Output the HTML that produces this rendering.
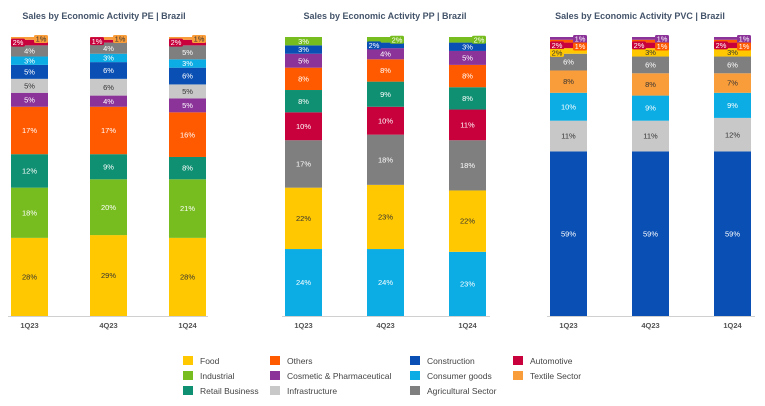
<!DOCTYPE html>
<html><head><meta charset="utf-8"><style>
body{margin:0;background:#fff;width:765px;height:401px;overflow:hidden;font-family:"Liberation Sans",sans-serif}
svg text{font-family:"Liberation Sans",sans-serif}
</style></head><body>
<svg id="c" width="765" height="401"></svg>
<script>
const periods=["1Q23","4Q23","1Q24"];
const colors={Food:"#ffc800",Industrial:"#77bd1f",Retail:"#109072",Others:"#ff5a00",Cosmetic:"#8b3399",Infrastructure:"#c8c8c8",Construction:"#0a50b4",Consumer:"#0bade4",Agricultural:"#7f7f7f",Automotive:"#c8003c",Textile:"#f99d3a"};
const peCats=["Food","Industrial","Retail","Others","Cosmetic","Infrastructure","Construction","Consumer","Agricultural","Automotive","Textile"];
const peVals=[[28,18,12,17,5,5,5,3,4,2,1],[29,20,9,17,4,6,6,3,4,1,1],[28,21,8,16,5,5,6,3,5,2,1]];
const ppCats=["Consumer","Food","Agricultural","Automotive","Retail","Others","Cosmetic","Construction","Industrial"];
const ppVals=[[24,22,17,10,8,8,5,3,3],[24,23,18,10,9,8,4,2,2],[23,22,18,11,8,8,5,3,2]];
const pvcCats=["Construction","Infrastructure","Consumer","Textile","Agricultural","Food","Automotive","Others","Cosmetic"];
const pvcVals=[[59,11,10,8,6,2,2,1,1],[59,11,9,8,6,3,2,1,1],[59,12,9,7,6,3,2,1,1]];
const charts=[
 {title:"Sales by Economic Activity PE | Brazil",cats:peCats,vals:peVals,x:[11,90,169],ax:[8,208],tx:104,name:"pe",oneRight:false},
 {title:"Sales by Economic Activity PP | Brazil",cats:ppCats,vals:ppVals,x:[285,367,449],ax:[282,490],tx:385,name:"pp",oneRight:false},
 {title:"Sales by Economic Activity PVC | Brazil",cats:pvcCats,vals:pvcVals,x:[550,632,714],ax:[547,755],tx:640,name:"pvc",oneRight:true}];
const NS="http://www.w3.org/2000/svg",svg=document.getElementById("c");
function mk(t,a,p){const e=document.createElementNS(NS,t);for(const k in a)e.setAttribute(k,a[k]);(p||svg).appendChild(e);return e;}
const base=316,top0=37,bw=37;
const yScale=v=>v*(base-top0)/100;
const darkText=["Food","Infrastructure","Textile"];
charts.forEach(ch=>{
 const g=mk("g",{});
 
 
 const t=mk("text",{x:ch.tx,y:19,"text-anchor":"middle","font-size":"9","font-weight":"bold",fill:"#44546a"},g);t.textContent=ch.title;
 
 
 ch.vals.forEach((arr,i)=>{
  let y=base;const x=ch.x[i];
  const labels=[];
  arr.forEach((v,j)=>{
   const h=yScale(v);y-=h;
   const r=mk("rect",{x:x,y:y,width:bw,height:h,fill:colors[ch.cats[j]]},g);
   
   
   labels.push([v,j,y,h]);
  });
  const prev={L:-99,R:-99,C:-99};
  labels.slice().reverse().forEach(([v,j,y,h])=>{
   let side="C";
   if(v<=2){side=(j==arr.length-1||(v<=1&&ch.oneRight))?"R":"L";}
   const lx=side=="R"?x+bw-7:(side=="L"?x+7:x+bw/2);
   let cy=y+h/2;
   if(side!="C"){cy=Math.max(cy,prev[side]+7.5,top0+2);prev[side]=cy;}
   if(side!="C"){
    const b=mk("rect",{x:lx-7,y:cy-4,width:14,height:8,rx:1.5,fill:colors[ch.cats[j]]},g);
    
    
   }
   const l=mk("text",{x:lx,y:cy+2.6,"text-anchor":"middle","font-size":"7.5",fill:darkText.includes(ch.cats[j])?"#333":"#fff"},g);
   l.textContent=v+"%";
   
   
  });
  const tl=mk("text",{x:x+bw/2,y:328,"text-anchor":"middle","font-size":"7.5","font-weight":"bold",fill:"#555"},g);
  tl.textContent=periods[i];
  
  
 });
 const a=mk("line",{x1:ch.ax[0],x2:ch.ax[1],y1:base+0.5,y2:base+0.5,stroke:"#d0d0d0"},g);
 
 
});
const legend=[["Food","Food"],["Industrial","Industrial"],["Retail","Retail Business"],["Others","Others"],["Cosmetic","Cosmetic & Pharmaceutical"],["Infrastructure","Infrastructure"],["Construction","Construction"],["Consumer","Consumer goods"],["Agricultural","Agricultural Sector"],["Automotive","Automotive"],["Textile","Textile Sector"]];
const lxs=[183,270,410,513],lys=[356,371,386];
legend.forEach((e,i)=>{
 const col=i<9?Math.floor(i/3):3,row=i<9?i%3:i-9;
 const g=mk("g",{});
 
 
 mk("rect",{x:lxs[col],y:lys[row],width:10,height:9,fill:colors[e[0]]},g);
 const t=mk("text",{x:lxs[col]+17,y:lys[row]+8,"font-size":"8.5",fill:"#444"},g);t.textContent=e[1];
});
</script>
</body></html>
